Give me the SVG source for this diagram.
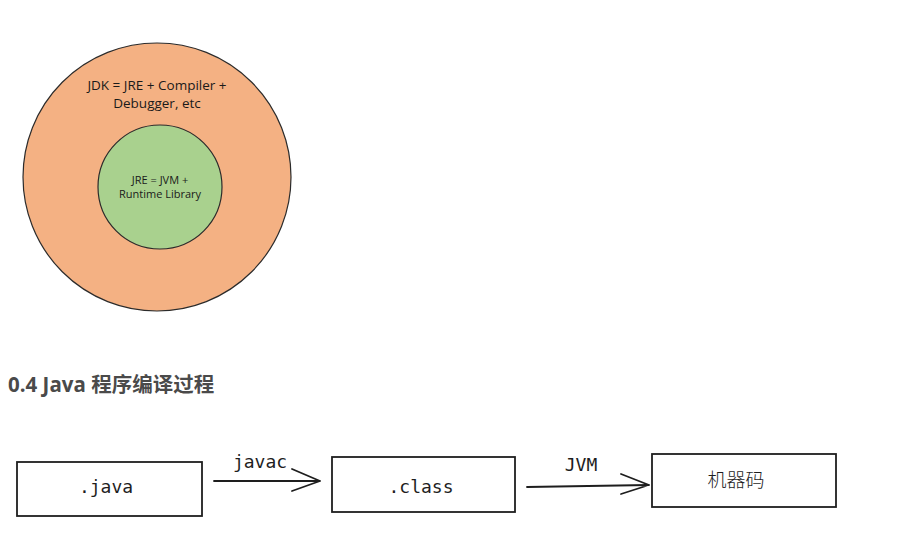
<svg xmlns="http://www.w3.org/2000/svg" width="922" height="550" viewBox="0 0 922 550">
<defs>
<style>
.circ{stroke:#2b2b2b;stroke-width:1.2}
.lbl{font-family:"Open Sans","Noto Sans",sans-serif;fill:#1a1a1a;text-anchor:middle}
.box{fill:#fff;stroke:#1e1e1e;stroke-width:1.8}
.mono{font-family:"DejaVu Sans Mono","Liberation Mono",monospace;font-size:18px;fill:#1e1e1e;text-anchor:middle}
.cjk{font-family:"Noto Sans CJK SC",sans-serif;font-size:19px;font-weight:300;fill:#1e1e1e;text-anchor:middle}
.edge{fill:none;stroke:#1e1e1e;stroke-width:1.8;stroke-linecap:round;stroke-linejoin:round}
.head{font-family:"Open Sans","Noto Sans CJK SC",sans-serif;font-weight:bold;font-size:20.5px;fill:#4a4a4a}
</style>
</defs>
<rect width="922" height="550" fill="#fff"/>
<g id="jdk">
<circle class="circ" cx="157" cy="177" r="134" fill="#F4B183"/>
<text class="lbl" font-size="13.5" x="157" y="90">JDK = JRE + Compiler +</text>
<text class="lbl" font-size="13.5" x="157" y="108">Debugger, etc</text>
</g>
<g id="jre">
<circle class="circ" cx="160" cy="187" r="62" fill="#A9D18E"/>
<text class="lbl" font-size="11" x="160" y="184">JRE = JVM +</text>
<text class="lbl" font-size="11" x="160" y="198">Runtime Library</text>
</g>
<text class="head" x="8" y="392">0.4 Java 程序编译过程</text>
<g id="java">
<rect class="box" x="17" y="462" width="185" height="54"/>
<text class="mono" x="106" y="493">.java</text>
</g>
<g id="class">
<rect class="box" x="332" y="457" width="183" height="55"/>
<text class="mono" x="421" y="493">.class</text>
</g>
<g id="machine">
<rect class="box" x="652" y="454" width="184" height="53"/>
<text class="cjk" x="736" y="487">机器码</text>
</g>
<g id="connectors">
<path class="edge" d="M214 481 L320 481 M292 469 L320 481 L292 491"/>
<text class="mono" x="260" y="468">javac</text>
<path class="edge" d="M527 487 L649 485 M621 474 L649 485 L621 494"/>
<text class="mono" x="581" y="471">JVM</text>
</g>
</svg>
